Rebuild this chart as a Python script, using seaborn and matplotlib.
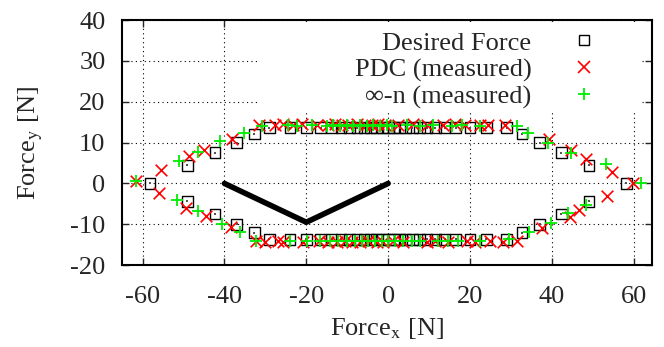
import numpy as np
import pandas as pd
import matplotlib
matplotlib.use('Agg')
import matplotlib.pyplot as plt
from matplotlib.patches import Rectangle
from matplotlib.lines import Line2D
import seaborn as sns

# Desired Force (squares)
desired_x = [-58.2, -49.1, -42.3, -37.0, -32.7,
             -29.0, -24.0, -20.0, -16.5, -13.8, -11.5, -9.5, -7.6, -5.9, -4.3, -2.8, -1.4,
             0.0, 1.4, 2.8, 4.3, 5.9, 7.6, 9.5, 11.5, 13.8, 16.5, 20.0, 24.0, 29.0,
             32.7, 37.0, 42.3, 49.1, 58.2,
             49.1, 42.3, 37.0, 32.7,
             29.0, 24.0, 20.0, 16.5, 13.8, 11.5, 9.5, 7.6, 5.9, 4.3, 2.8, 1.4,
             0.0, -1.4, -2.8, -4.3, -5.9, -7.6, -9.5, -11.5, -13.8, -16.5, -20.0, -24.0, -29.0,
             -32.7, -37.0, -42.3, -49.1]
desired_y = [0.0, 4.4, 7.5, 10.0, 12.1,
             13.7, 13.7, 13.7, 13.7, 13.7, 13.7, 13.7, 13.7, 13.7, 13.7, 13.7, 13.7,
             13.7, 13.7, 13.7, 13.7, 13.7, 13.7, 13.7, 13.7, 13.7, 13.7, 13.7, 13.7, 13.7,
             12.1, 10.0, 7.5, 4.4, 0.0,
             -4.4, -7.5, -10.0, -12.1,
             -13.7, -13.7, -13.7, -13.7, -13.7, -13.7, -13.7, -13.7, -13.7, -13.7, -13.7, -13.7,
             -13.7, -13.7, -13.7, -13.7, -13.7, -13.7, -13.7, -13.7, -13.7, -13.7, -13.7, -13.7, -13.7,
             -12.1, -10.0, -7.5, -4.4]

# PDC (measured)
pdc_x = [-61.7, -55.4, -48.7, -44.9, -38.1,
         -31.6, -27.6, -25.6, -23.2, -21.0, -17.4, -14.6, -12.9, -11.3, -9.8, -7.6, -5.6, -4.0,
         -2.4, -0.7, 2.4, 6.1, 9.4, 13.4, 16.3, 18.8, 22.4, 24.4, 28.5,
         39.3, 44.6, 48.3, 54.8, 59.8, 53.5, 46.7, 44.4, 37.7, 31.5,
         28.0, 24.9, 21.2, 19.2, 14.6, 11.5, 9.4, 3.7, 1.2, -1.2, -2.8, -4.9, -6.8, -8.9,
         -10.5, -12.5, -14.6, -17.0, -20.7, -25.6, -26.8, -30.0,
         -32.4, -38.5, -44.4, -49.5, -56.0]
pdc_y = [0.6, 3.4, 6.6, 8.2, 11.0,
         14.3, 14.4, 14.5, 14.3, 14.5, 14.4, 14.3, 14.5, 14.4, 14.3, 14.5, 14.4, 14.3,
         14.5, 14.4, 14.3, 14.5, 14.4, 14.3, 14.5, 14.4, 14.3, 14.3, 14.4,
         11.0, 8.3, 6.1, 2.8, 0.0, -3.0, -6.5, -8.1, -11.0, -14.2,
         -14.3, -14.2, -14.4, -14.2, -14.3, -14.2, -14.4, -14.3, -14.2, -14.4, -14.3, -14.2, -14.4, -14.3,
         -14.2, -14.4, -14.3, -14.2, -14.4, -14.3, -14.2, -14.3,
         -14.1, -10.6, -7.9, -5.9, -2.4]

# inf-n (measured)
infn_x = [-61.7, -51.1, -46.5, -41.0, -35.3,
          -30.8, -24.4, -22.3, -18.6, -15.0, -13.4, -11.7, -10.1, -8.5, -6.8, -5.2, -3.7, -2.0,
          -0.3, 0.9, 4.6, 7.8, 11.0, 15.5, 18.0, 22.4, 31.4,
          34.2, 39.1, 44.6, 53.2, 61.9, 48.3, 44.0, 39.7, 34.5, 29.6,
          22.4, 17.1, 14.6, 12.2, 7.8, 5.8, 3.7, 1.7, 0.0, -1.5, -3.2, -4.9, -6.4, -8.0,
          -10.1, -12.2, -14.1, -16.6, -19.8, -23.9, -32.4,
          -36.1, -40.6, -46.5, -51.5]
infn_y = [0.7, 5.5, 7.7, 10.4, 12.4,
          14.1, 14.2, 14.1, 14.2, 14.1, 14.2, 14.1, 14.2, 14.1, 14.2, 14.1, 14.2, 14.1,
          14.2, 14.1, 14.2, 14.1, 14.2, 14.1, 14.2, 14.1, 14.1,
          12.4, 10.0, 7.5, 4.7, 0.0, -5.2, -7.3, -9.8, -11.8, -13.7,
          -14.1, -14.2, -14.1, -14.2, -14.1, -14.2, -14.1, -14.2, -14.1, -14.2, -14.1, -14.2, -14.1, -14.2,
          -14.1, -14.2, -14.1, -14.2, -14.1, -14.2, -14.1,
          -12.0, -10.0, -6.7, -4.0]

# thick black polyline
path_x = [-40, -20, 0]
path_y = [0, -9.5, 0]

labels = ['Desired Force', 'PDC (measured)', '\u221e-n (measured)']

sns.set_style('ticks')
plt.rcParams['font.family'] = ['Liberation Serif', 'DejaVu Serif']
plt.rcParams['mathtext.fontset'] = 'stix'
plt.rcParams['axes.unicode_minus'] = False

FS = 19

fig = plt.figure(figsize=(6.64, 3.47), dpi=100)
ax = fig.add_axes([0.184, 0.236, 0.798, 0.706])
ax.set_axisbelow(True)

sns.lineplot(x=path_x, y=path_y, ax=ax, color='black', linewidth=4, sort=False,
             estimator=None, zorder=3)
sns.scatterplot(x=desired_x, y=desired_y, ax=ax, marker='s', s=60, facecolors='none',
                edgecolor='black', linewidth=1.0, zorder=4)
sns.scatterplot(x=desired_x, y=desired_y, ax=ax, marker='s', s=2, color='#555555',
                linewidth=0, zorder=4)
sns.scatterplot(x=pdc_x, y=pdc_y, ax=ax, marker='x', s=70, color='red',
                linewidth=1.2, zorder=5)
sns.scatterplot(x=infn_x, y=infn_y, ax=ax, marker='+', s=80, color='#00ee00',
                linewidth=1.3, zorder=6)

ax.set_xlim(-65, 64.5)
ax.set_ylim(-20, 40)
ax.set_xticks([-60, -40, -20, 0, 20, 40, 60])
ax.set_yticks([-20, -10, 0, 10, 20, 30, 40])
ax.grid(True, color='black', linestyle=(0, (1, 3)), linewidth=0.8)
ax.tick_params(direction='in', top=True, right=True, length=5, width=1,
               labelsize=FS)
ax.tick_params(axis='x', pad=15)
ax.tick_params(axis='y', pad=12)
for sp in ax.spines.values():
    sp.set_visible(True)
    sp.set_linewidth(1.5)
    sp.set_color('black')

ax.set_xlabel('Force$_\\mathrm{x}$ [N]', fontsize=FS, labelpad=6)
ax.set_ylabel('Force$_\\mathrm{y}$ [N]', fontsize=FS, labelpad=18)

# white box behind the key (gnuplot style)
ax.add_patch(Rectangle((0.255, 0.624), 0.722, 0.368, transform=ax.transAxes,
                       facecolor='white', edgecolor='none', zorder=1))

handles = [
    Line2D([], [], marker='s', linestyle='none', markersize=7, markerfacecolor='none',
           markeredgecolor='black', markeredgewidth=1.0),
    Line2D([], [], marker='x', linestyle='none', markersize=8, color='red',
           markeredgewidth=1.2),
    Line2D([], [], marker='+', linestyle='none', markersize=8, color='#00ee00',
           markeredgewidth=1.3),
]
ax.legend(handles, labels, loc='upper right', bbox_to_anchor=(0.917, 0.955),
          markerfirst=False, frameon=False, fontsize=FS, borderpad=0,
          borderaxespad=0, handletextpad=1.1, labelspacing=0.12, handlelength=1.8)

fig.savefig('out.png', dpi=100)
